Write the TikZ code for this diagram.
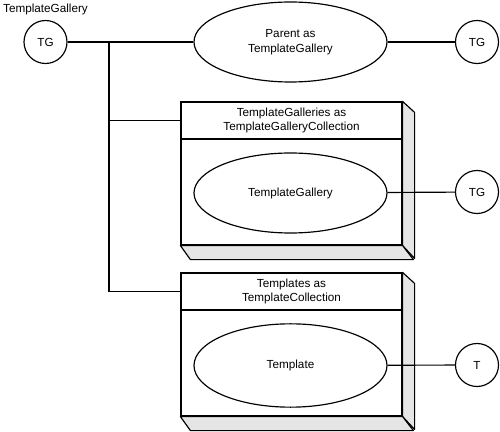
\documentclass[tikz,border=0pt]{standalone}
\usepackage{fontspec}
\setmainfont{Liberation Sans}
\usetikzlibrary{positioning, shapes.geometric}

\begin{document}
\begin{tikzpicture}[
    x=0.03cm, y=-0.03cm,
    line width=1pt,
    every node/.style={font=\fontsize{10}{12.5}\selectfont},
    obj/.style={circle, draw, fill=white, minimum size=1.29cm, inner sep=0pt},
    member/.style={ellipse, draw, fill=white, minimum width=5.79cm, minimum height=2.4cm, align=center},
    crate/.style={rectangle, draw, fill=white, minimum width=6.63cm, minimum height=4.29cm},
    header/.style={rectangle, draw, minimum width=6.63cm, minimum height=1.11cm, align=center, anchor=north},
    slab/.style={draw, fill=black!10, line join=round}
]
\useasboundingbox (0,0) rectangle (500,432);

% --- Objeto raíz ---
\node[obj] (tgRoot) at (45.5,42) {TG};
\node[above=0pt of tgRoot] (tgName) {TemplateGallery};

% --- Propiedad Parent ---
\node[member] (parent) at (290.5,42) {Parent as\\TemplateGallery};
\node[obj] (tgParent) at (477,42) {TG};

% --- Colección TemplateGalleries ---
\node[crate] (galleries) at (291.5,173.5) {};
\node[header] (galleriesHead) at (galleries.north) {TemplateGalleries as\\TemplateGalleryCollection};
\filldraw[slab] (galleries.north east) -- ++(12,11) -- ++(0,146) -- (galleries.south east) -- cycle;
\filldraw[slab] (galleries.south west) -- ++(10,14) -- ++(223,0) -- (galleries.south east) -- cycle;
\node[member] (gallery) at (290.5,193) {TemplateGallery};
\node[obj] (tgItem) at (477,192) {TG};

% --- Colección Templates ---
\node[crate] (templates) at (291.5,344.5) {};
\node[header] (templatesHead) at (templates.north) {Templates as\\TemplateCollection};
\filldraw[slab] (templates.north east) -- ++(12,11) -- ++(0,146) -- (templates.south east) -- cycle;
\filldraw[slab] (templates.south west) -- ++(10,14) -- ++(223,0) -- (templates.south east) -- cycle;
\node[member, minimum height=2.5cm] (template) at (290.5,365.5) {Template};
\node[obj] (tItem) at (477,365) {T};

% --- Conectores ---
\coordinate (split) at (109,42);
\draw (tgRoot) -- (parent);
\draw (parent) -- (tgParent);
\draw (split) |- (galleriesHead.west);
\draw (split) |- (templatesHead.west);
\draw (gallery) -- (tgItem);
\draw (template) -- (tItem);

\end{tikzpicture}
\end{document}
